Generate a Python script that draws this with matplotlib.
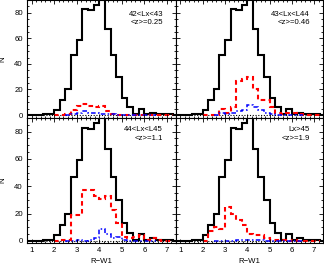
import numpy as np
import matplotlib
matplotlib.use("Agg")
import matplotlib.pyplot as plt
from matplotlib.ticker import MultipleLocator

plt.rcParams['font.family'] = ['Liberation Sans', 'DejaVu Sans']

bin_width = 0.25
# total sample (same in every panel), bins starting at 0.75
black_start = 0.75
black_counts = [0, 0, 0, 1, 1, 4, 12, 20, 47, 59, 83, 82, 86, 93, 67, 47, 30, 13,
                6, 1, 5, 1, 2, 1, 1, 1, 0]

# red subsamples, bins starting at 2.0
red_start = 2.0
red_counts = [
    [0, 0, 1, 4, 7, 9, 7, 6, 7, 3, 1, 0, 0, 0, 0, 0, 0, 0, 0, 0, 0],
    [0, 0, 0, 5, 2, 6, 27, 28, 30, 20, 12, 12, 6, 2, 1, 2, 2, 1, 0, 0, 0],
    [0, 1, 1, 19, 19, 37, 37, 33, 31, 33, 23, 13, 3, 2, 3, 4, 1, 2, 1, 0, 0],
    [0, 7, 10, 9, 25, 20, 15, 12, 5, 4, 4, 2, 1, 1, 1, 0, 1, 0, 0, 0, 0],
]

# blue subsamples, bins starting at 2.5
blue_start = 2.5
blue_counts = [
    [0, 1, 2, 3, 2, 2, 1, 1, 1, 0, 0, 0, 0, 0, 0, 0],
    [0, 2, 1, 2, 3, 4, 8, 6, 4, 2, 1, 0, 0, 0, 0, 0],
    [0, 0, 1, 0, 1, 2, 9, 5, 2, 3, 1, 0, 0, 0, 0, 0],
    [0, 0, 0, 0, 1, 1, 1, 1, 1, 0, 0, 0, 0, 0, 0, 0],
]

# dotted sample (zero everywhere), bins starting at 1.0
dot_start = 1.0
dot_counts = [0] * 24

lx_labels = ["42<Lx<43", "43<Lx<L44", "44<Lx<L45", "Lx>45"]
z_labels = ["<z>=0.25", "<z>=0.46", "<z>=1.1", "<z>=1.9"]

xticks = [1, 2, 3, 4, 5, 6, 7]
yticks = [0, 20, 40, 60, 80]

W, H = 324, 267
fig = plt.figure(figsize=(W / 100, H / 100), dpi=100)

def fx(p):
    return p / W

def fy(p):
    return 1 - p / H

left_px, mid_px, right_px = 27, 176, 323
top_px, div_px, bot_px = 0, 118, 243

rects = [
    (left_px, top_px, mid_px, div_px),
    (mid_px, top_px, right_px, div_px),
    (left_px, div_px, mid_px, bot_px),
    (mid_px, div_px, right_px, bot_px),
]

def edges(start, n):
    return start + bin_width * np.arange(n + 1)

fs = 5.6
for i, (x0, y0, x1, y1) in enumerate(rects):
    ax = fig.add_axes([fx(x0), fy(y1), fx(x1) - fx(x0), fy(y0) - fy(y1)])
    ax.set_xlim(0.8, 7.4)
    if i < 2:
        ax.set_ylim(-2.3, 90)
    else:
        ax.set_ylim(-1.5, 90)
    ax.stairs(dot_counts, edges(dot_start, len(dot_counts)), color='black',
              lw=0.8, linestyle=(0, (1, 1.5)), baseline=None)
    ax.stairs(black_counts, edges(black_start, len(black_counts)), color='black',
              lw=1.5, baseline=None)
    ax.stairs(red_counts[i], edges(red_start, len(red_counts[i])), color='#ff0000',
              lw=1.5, linestyle=(0, (2.2, 1.6)), baseline=None)
    ax.stairs(blue_counts[i], edges(blue_start, len(blue_counts[i])), color='#0000ff',
              lw=1.1, linestyle=(0, (3, 1.5, 1, 1.5)), baseline=None)

    ax.set_xticks(xticks)
    ax.set_yticks(yticks)
    ax.xaxis.set_minor_locator(MultipleLocator(0.2))
    ax.yaxis.set_minor_locator(MultipleLocator(5))
    ax.tick_params(which='both', direction='in', top=True, right=True,
                   labelsize=fs, width=0.6, pad=3)
    ax.tick_params(which='major', length=3)
    ax.tick_params(which='minor', length=1.5)
    for s in ax.spines.values():
        s.set_linewidth(0.8)
    if i % 2 == 1:
        ax.set_yticklabels([])
    else:
        ax.set_ylabel("N", fontsize=fs, labelpad=6)
    if i < 2:
        ax.set_xticklabels([])
    else:
        ax.set_xlabel("R\u2212W1", fontsize=fs, labelpad=3)

    tx = x1 - 13
    if i < 2:
        ty1, ty2 = 14, 23
    else:
        ty1, ty2 = div_px + 11, div_px + 20
    fig.text(fx(tx), fy(ty1), lx_labels[i], ha='right', va='center', fontsize=fs)
    fig.text(fx(tx), fy(ty2), z_labels[i], ha='right', va='center', fontsize=fs)

fig.savefig("out.png", dpi=100)
